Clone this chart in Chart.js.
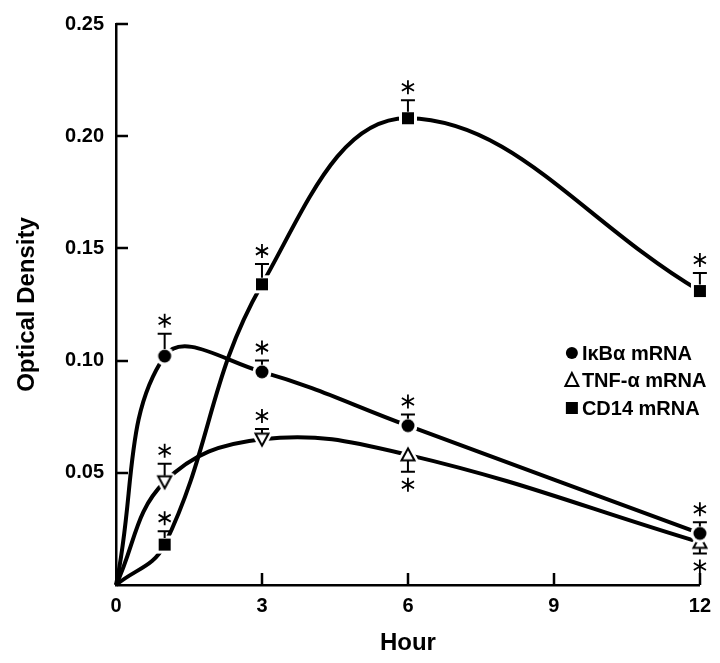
<!DOCTYPE html>
<html lang="en">
<head>
  <meta charset="UTF-8" />
  <title>Optical Density vs Hour</title>
  <script src="https://cdn.jsdelivr.net/npm/chart.js@4"></script>
  <style>
    body { margin: 0; background: #fff; }
    #odChart { display: block; }
  </style>
</head>
<body>
<canvas id="odChart" width="720" height="663"></canvas>
<script>
// values
const hours = [0, 1, 3, 6, 12];
const ikbaOD = [0, 0.102, 0.095, 0.071, 0.023];
const tnfOD = [0, 0.046, 0.065, 0.058, 0.019];
const cd14OD = [0, 0.018, 0.134, 0.208, 0.131];
// error bars (negative = drawn below the point), each one carries a star
const ikbaErr = [null, 0.010, 0.005, 0.005, 0.005];
const tnfErr = [null, 0.008, 0.0045, -0.0075, -0.005];
const cd14Err = [null, 0.006, 0.009, 0.008, 0.008];
const tnfMarks = [null, 'down', 'down', 'up', 'up'];
const seriesNames = ['I\u03BAB\u03B1 mRNA', 'TNF-\u03B1 mRNA', 'CD14 mRNA'];

const FONT = "'Liberation Sans', Arial, Helvetica, sans-serif";
Chart.defaults.font.family = FONT;
Chart.defaults.color = '#000';

// marker images with a white halo so the curves stop short of them
function makeMarker(kind) {
  const c = document.createElement('canvas');
  c.width = 24; c.height = 24;
  const g = c.getContext('2d');
  g.translate(12, 12);
  g.fillStyle = '#fff';
  g.strokeStyle = '#fff';
  if (kind === 'circle') {
    g.beginPath(); g.arc(0, 0, 9.5, 0, Math.PI * 2); g.fill();
    g.fillStyle = '#000';
    g.beginPath(); g.arc(0, 0, 6.5, 0, Math.PI * 2); g.fill();
  } else if (kind === 'square') {
    g.fillRect(-9, -9, 18, 18);
    g.fillStyle = '#000';
    g.fillRect(-6, -6, 12, 12);
  } else {
    const s = kind === 'up' ? 1 : -1;
    g.beginPath();
    g.moveTo(0, -6.5 * s); g.lineTo(6.5, 5.5 * s); g.lineTo(-6.5, 5.5 * s);
    g.closePath();
    g.lineJoin = 'round';
    g.lineWidth = 7; g.stroke(); g.fill();
    g.lineJoin = 'miter';
    g.strokeStyle = '#000'; g.lineWidth = 2; g.stroke();
  }
  return c;
}
const circleMark = makeMarker('circle');
const squareMark = makeMarker('square');
const triMarks = { up: makeMarker('up'), down: makeMarker('down') };

const pts = ys => hours.map((h, i) => ({ x: h, y: ys[i] }));
const radii = hours.map(h => h === 0 ? 0 : 8);

const series = [
  { vals: ikbaOD, err: ikbaErr, half: 7 },
  { vals: tnfOD, err: tnfErr, half: 6 },
  { vals: cd14OD, err: cd14Err, half: 6.5 }
];

function drawStar(ctx, x, y) {
  const r = 7;
  ctx.save();
  ctx.lineWidth = 1.8;
  ctx.beginPath();
  [90, 30, 150].forEach(a => {
    const t = a * Math.PI / 180;
    ctx.moveTo(x - r * Math.cos(t), y - r * Math.sin(t));
    ctx.lineTo(x + r * Math.cos(t), y + r * Math.sin(t));
  });
  ctx.stroke();
  ctx.restore();
}

const decorPlugin = {
  id: 'decor',
  beforeDatasetsDraw(chart) {
    // tick marks pointing into the plot
    const { ctx, chartArea, scales: { x, y } } = chart;
    ctx.save();
    ctx.strokeStyle = '#000';
    ctx.lineWidth = 2.5;
    ctx.beginPath();
    y.ticks.forEach(t => {
      if (t.value <= 0) return;
      const py = Math.round(y.getPixelForValue(t.value));
      ctx.moveTo(chartArea.left, py);
      ctx.lineTo(chartArea.left + 12, py);
    });
    x.ticks.forEach(t => {
      if (t.value <= 0) return;
      const px = Math.round(x.getPixelForValue(t.value));
      ctx.moveTo(px, chartArea.bottom);
      ctx.lineTo(px, chartArea.bottom - 12);
    });
    ctx.stroke();
    ctx.restore();
  },
  afterDatasetsDraw(chart) {
    const { ctx, scales: { x, y } } = chart;
    ctx.save();
    ctx.strokeStyle = '#000';
    ctx.lineWidth = 2;
    series.forEach(s => {
      hours.forEach((h, i) => {
        const e = s.err[i];
        if (e == null) return;
        const px = x.getPixelForValue(h);
        const py = y.getPixelForValue(s.vals[i]);
        const pe = y.getPixelForValue(s.vals[i] + e);
        const dir = e > 0 ? -1 : 1;
        ctx.beginPath();
        ctx.moveTo(px, py + dir * s.half);
        ctx.lineTo(px, pe);
        ctx.moveTo(px - 7, pe);
        ctx.lineTo(px + 7, pe);
        ctx.stroke();
        drawStar(ctx, px, pe + dir * 13);
      });
    });
    ctx.restore();
  },
  afterDraw(chart) {
    // legend inside the plot, right side
    const { ctx, chartArea } = chart;
    const mx = chartArea.right - 128;
    const tx = chartArea.right - 118;
    const rows = [chartArea.top + 329, chartArea.top + 356, chartArea.top + 384];
    ctx.save();
    ctx.fillStyle = '#000';
    ctx.strokeStyle = '#000';
    ctx.font = 'bold 20px ' + FONT;
    ctx.textBaseline = 'middle';
    ctx.textAlign = 'left';
    ctx.beginPath(); ctx.arc(mx, rows[0], 6, 0, Math.PI * 2); ctx.fill();
    ctx.lineWidth = 2;
    ctx.beginPath();
    ctx.moveTo(mx, rows[1] - 7); ctx.lineTo(mx + 6.5, rows[1] + 6); ctx.lineTo(mx - 6.5, rows[1] + 6);
    ctx.closePath(); ctx.stroke();
    ctx.fillRect(mx - 6, rows[2] - 6, 12, 12);
    seriesNames.forEach((n, i) => ctx.fillText(n, tx, rows[i] + 1));
    ctx.restore();
  }
};

const axisFont = { family: FONT, size: 20, weight: 'bold' };
const titleFont = { family: FONT, size: 24, weight: 'bold' };

const lineStyle = { borderColor: '#000', borderWidth: 4, tension: 0.4, fill: false, clip: false, pointRadius: radii };

new Chart(document.getElementById('odChart'), {
  type: 'line',
  data: {
    datasets: [
      { ...lineStyle, label: seriesNames[0], data: pts(ikbaOD), pointStyle: hours.map(() => circleMark) },
      { ...lineStyle, label: seriesNames[1], data: pts(tnfOD), pointStyle: tnfMarks.map(m => m ? triMarks[m] : false) },
      { ...lineStyle, label: seriesNames[2], data: pts(cd14OD), pointStyle: hours.map(() => squareMark) }
    ]
  },
  options: {
    responsive: false,
    animation: false,
    layout: { padding: { top: 15, right: 19, left: 0, bottom: 0 } },
    plugins: {
      legend: { display: false },
      tooltip: { enabled: false }
    },
    scales: {
      x: {
        type: 'linear', min: 0, max: 12,
        ticks: { stepSize: 3, font: axisFont, color: '#000', padding: 9 },
        grid: { display: false, drawTicks: false },
        border: { display: true, color: '#000', width: 2.5 },
        title: { display: true, text: 'Hour', font: titleFont, color: '#000', padding: { top: 0, bottom: 5 } },
        afterFit: s => { s.height = 78; }
      },
      y: {
        min: 0, max: 0.25,
        ticks: {
          stepSize: 0.05, font: axisFont, color: '#000', padding: 12,
          callback: v => v === 0 ? '' : v.toFixed(2)
        },
        grid: { display: false, drawTicks: false },
        border: { display: true, color: '#000', width: 2.5 },
        title: { display: true, text: 'Optical Density', font: titleFont, color: '#000', padding: { top: 13, bottom: 0 } },
        afterFit: s => { s.width = 116; }
      }
    }
  },
  plugins: [decorPlugin]
});
</script>
</body>
</html>
